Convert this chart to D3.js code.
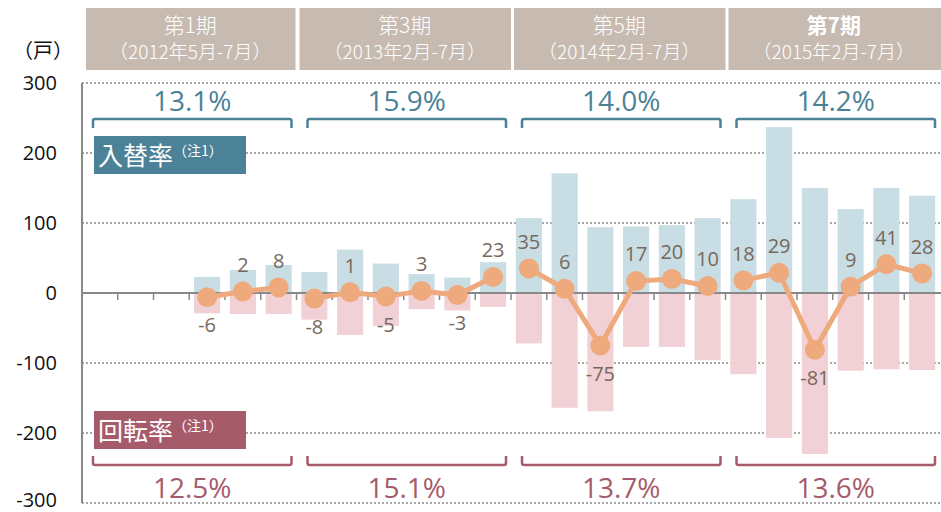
<!DOCTYPE html>
<html>
<head>
<meta charset="utf-8">
<script src="https://cdn.jsdelivr.net/npm/d3@7"></script>
<style>
  body { margin: 0; background: #fff; }
  svg { display: block; font-family: "Noto Sans CJK JP", "Noto Sans", sans-serif; }
</style>
</head>
<body>
<div id="chart"></div>
<script>
var svgWidth = 941;
var svgHeight = 512;

// Period headers and rates
var periods = ["第1期", "第3期", "第5期", "第7期"];
var periodRanges = ["（2012年5月-7月）", "（2013年2月-7月）", "（2014年2月-7月）", "（2015年2月-7月）"];
var replaceRates = ["13.1%", "15.9%", "14.0%", "14.2%"];
var turnoverRates = ["12.5%", "15.1%", "13.7%", "13.6%"];

// 24 monthly slots, 6 per period
var slots = d3.range(24).map(i => "s" + i);
var slotPeriod = d3.range(24).map(i => Math.floor(i / 6));

// Series (戸)
var inflow = [null, null, null, 23, 33, 40, 30, 62, 42, 27, 22, 44,
  107, 171, 94, 95, 97, 107, 134, 237, 150, 120, 150, 139];
var outflow = [null, null, null, -29, -30, -30, -38, -60, -47, -23, -25, -20,
  -72, -164, -169, -77, -77, -96, -116, -207, -230, -111, -109, -110];
var net = [null, null, null, -6, 2, 8, -8, 1, -5, 3, -3, 23,
  35, 6, -75, 17, 20, 10, 18, 29, -81, 9, 41, 28];

var yTicks = [300, 200, 100, 0, -100, -200, -300];

var plotLeft = 82, plotRight = 940;

var svg = d3.select("#chart")
  .append("svg")
  .attr("width", svgWidth)
  .attr("height", svgHeight);

var x = d3.scaleBand()
  .domain(slots)
  .range([plotLeft, plotRight])
  .paddingInner(0.27)
  .paddingOuter(0.135);

var y = d3.scaleLinear()
  .domain([-300, 300])
  .range([503, 83]);

var step = x.step();
var periodX = i => plotLeft + i * 6 * step;

// Header boxes
var header = svg.selectAll(".header")
  .data(periods)
  .enter()
  .append("g");

header.append("rect")
  .attr("x", (d, i) => periodX(i) + (i === 0 ? 4 : 3))
  .attr("y", 8)
  .attr("width", (d, i) => 6 * step - (i === 0 ? 5 : 3) + (i === 3 ? 2 : 0))
  .attr("height", 62)
  .attr("fill", "#c7bbb1");

header.append("text")
  .attr("x", (d, i) => periodX(i) + 3 * step + 1)
  .attr("y", 33)
  .attr("text-anchor", "middle")
  .attr("fill", "#fff")
  .style("font-size", "21px")
  .style("font-weight", (d, i) => i === 3 ? "bold" : 300)
  .text(d => d);

header.append("text")
  .attr("x", (d, i) => periodX(i) + 3 * step + 1)
  .attr("y", 59)
  .attr("text-anchor", "middle")
  .attr("fill", "#fff")
  .style("font-size", "19px")
  .style("font-weight", 300)
  .text((d, i) => periodRanges[i]);

// Unit label
svg.append("text")
  .attr("x", 13)
  .attr("y", 58)
  .style("font-size", "20px")
  .attr("fill", "#111")
  .text("（戸）");

// Grid lines
svg.selectAll(".grid")
  .data(yTicks.filter(d => d !== 0))
  .enter()
  .append("line")
  .attr("x1", plotLeft)
  .attr("x2", svgWidth)
  .attr("y1", d => y(d))
  .attr("y2", d => y(d))
  .attr("stroke", "#8a8a8a")
  .attr("stroke-width", 1.5)
  .attr("stroke-dasharray", "2,2");

// Y tick labels
svg.selectAll(".ylab")
  .data(yTicks)
  .enter()
  .append("text")
  .attr("x", 57)
  .attr("y", d => y(d))
  .attr("dy", d => d === -300 ? "0.2em" : "0.36em")
  .attr("text-anchor", "end")
  .style("font-family", "'Open Sans', sans-serif")
  .style("font-size", "20px")
  .attr("fill", "#111")
  .text(d => d);

// X ticks below zero line at slot boundaries
svg.selectAll(".xtick")
  .data(d3.range(1, 24))
  .enter()
  .append("line")
  .attr("x1", d => plotLeft + d * step)
  .attr("x2", d => plotLeft + d * step)
  .attr("y1", y(0))
  .attr("y2", y(0) + 7)
  .attr("stroke", "#888")
  .attr("stroke-width", 1.5);

// Bars
var slotData = slots.map((s, i) => ({ key: s, inflow: inflow[i], outflow: outflow[i], net: net[i], p: slotPeriod[i] }));
var withData = slotData.filter(d => d.inflow !== null);

svg.selectAll(".bar-in")
  .data(withData)
  .enter()
  .append("rect")
  .attr("x", d => x(d.key))
  .attr("width", x.bandwidth())
  .attr("y", d => y(d.inflow))
  .attr("height", d => y(0) - y(d.inflow))
  .attr("fill", "#c9dde4");

svg.selectAll(".bar-out")
  .data(withData)
  .enter()
  .append("rect")
  .attr("x", d => x(d.key))
  .attr("width", x.bandwidth())
  .attr("y", y(0))
  .attr("height", d => y(d.outflow) - y(0))
  .attr("fill", "#f1d0d6");

// Axes lines
svg.append("line")
  .attr("x1", plotLeft)
  .attr("x2", svgWidth)
  .attr("y1", y(0))
  .attr("y2", y(0))
  .attr("stroke", "#888")
  .attr("stroke-width", 2);

svg.append("line")
  .attr("x1", plotLeft)
  .attr("x2", plotLeft)
  .attr("y1", y(300))
  .attr("y2", y(-300))
  .attr("stroke", "#888")
  .attr("stroke-width", 2);

// Net line, one segment per period
var line = d3.line()
  .x(d => x(d.key) + x.bandwidth() / 2)
  .y(d => y(d.net));

var byPeriod = d3.groups(withData, d => d.p);
svg.selectAll(".netline")
  .data(byPeriod)
  .enter()
  .append("path")
  .attr("d", d => line(d[1]))
  .attr("fill", "none")
  .attr("stroke", "#eeaa7c")
  .attr("stroke-width", 5);

svg.selectAll(".dot")
  .data(withData)
  .enter()
  .append("circle")
  .attr("cx", d => x(d.key) + x.bandwidth() / 2)
  .attr("cy", d => y(d.net))
  .attr("r", 10)
  .attr("fill", "#eeaa7c");

svg.selectAll(".netlab")
  .data(withData)
  .enter()
  .append("text")
  .attr("x", d => x(d.key) + x.bandwidth() / 2)
  .attr("y", d => y(d.net) + (d.net < 0 ? 28 : -27))
  .attr("dy", "0.36em")
  .attr("text-anchor", "middle")
  .style("font-family", "'Open Sans', sans-serif")
  .style("font-size", "20px")
  .attr("fill", "#76695c")
  .text(d => d.net);

// Braces
function brace(x1, x2, yb, dir) {
  var leg = 9 * dir, r = 2 * dir;
  return `M${x1},${yb + leg} L${x1},${yb + r} Q${x1},${yb} ${x1 + 2},${yb} ` +
    `L${x2 - 2},${yb} Q${x2},${yb} ${x2},${yb + r} L${x2},${yb + leg}`;
}

var blue = "#4c8297", red = "#a65b6b";

svg.selectAll(".brace-top")
  .data(replaceRates)
  .enter()
  .append("path")
  .attr("d", (d, i) => brace(periodX(i) + 11, periodX(i) + 6 * step - 5, 119, 1))
  .attr("fill", "none")
  .attr("stroke", blue)
  .attr("stroke-width", 2.5);

svg.selectAll(".rate-top")
  .data(replaceRates)
  .enter()
  .append("text")
  .attr("x", (d, i) => periodX(i) + 3 * step + 3)
  .attr("y", 101)
  .attr("dy", "0.36em")
  .attr("text-anchor", "middle")
  .style("font-family", "'Open Sans', sans-serif")
  .style("font-size", "28px")
  .attr("fill", blue)
  .text(d => d);

svg.selectAll(".brace-bot")
  .data(turnoverRates)
  .enter()
  .append("path")
  .attr("d", (d, i) => brace(periodX(i) + 11, periodX(i) + 6 * step - 5, 465, -1))
  .attr("fill", "none")
  .attr("stroke", red)
  .attr("stroke-width", 2.5);

svg.selectAll(".rate-bot")
  .data(turnoverRates)
  .enter()
  .append("text")
  .attr("x", (d, i) => periodX(i) + 3 * step + 3)
  .attr("y", 488)
  .attr("dy", "0.36em")
  .attr("text-anchor", "middle")
  .style("font-family", "'Open Sans', sans-serif")
  .style("font-size", "28px")
  .attr("fill", red)
  .text(d => d);

// Legend boxes
function tagBox(label, yTop, color) {
  var g = svg.append("g");
  g.append("rect")
    .attr("x", 94)
    .attr("y", yTop)
    .attr("width", 152)
    .attr("height", 38)
    .attr("fill", color);
  var t = g.append("text")
    .attr("x", 98)
    .attr("y", yTop + 29)
    .attr("fill", "#fff");
  t.append("tspan").style("font-size", "25px").text(label);
  t.append("tspan").attr("dy", -9).style("font-size", "14px").text("（注1）");
}
tagBox("入替率", 136, blue);
tagBox("回転率", 411, red);
</script>
</body>
</html>
